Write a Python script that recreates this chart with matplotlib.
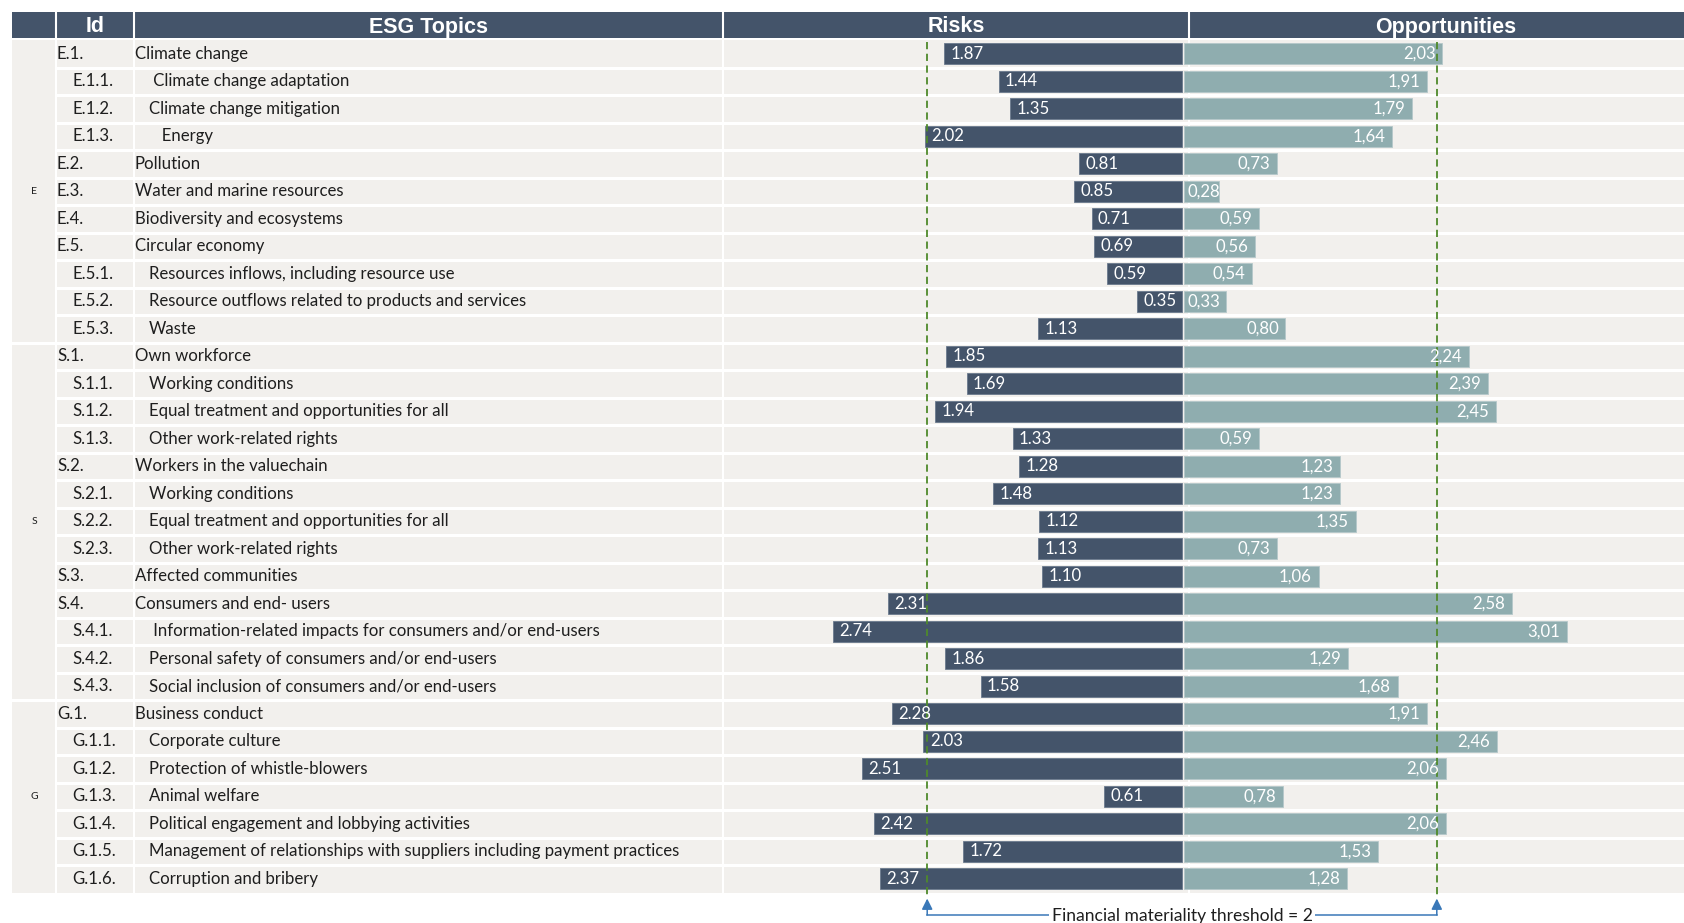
import matplotlib

matplotlib.use("Agg")
import matplotlib.pyplot as plt
from matplotlib.patches import Rectangle

groups = ["E", "S", "G"]
group_sizes = [11, 13, 7]

ids = [
    "E.1.", "E.1.1.", "E.1.2.", "E.1.3.", "E.2.", "E.3.", "E.4.", "E.5.", "E.5.1.", "E.5.2.", "E.5.3.",
    "S.1.", "S.1.1.", "S.1.2.", "S.1.3.", "S.2.", "S.2.1.", "S.2.2.", "S.2.3.", "S.3.", "S.4.",
    "S.4.1.", "S.4.2.", "S.4.3.",
    "G.1.", "G.1.1.", "G.1.2.", "G.1.3.", "G.1.4.", "G.1.5.", "G.1.6.",
]
topics = [
    "Climate change", " Climate change adaptation", "Climate change mitigation", "   Energy",
    "Pollution", "Water and marine resources", "Biodiversity and ecosystems", "Circular economy",
    "Resources inflows, including resource use", "Resource outflows related to products and services", "Waste",
    "Own workforce", "Working conditions", "Equal treatment and opportunities for all",
    "Other work-related rights", "Workers in the valuechain", "Working conditions",
    "Equal treatment and opportunities for all", "Other work-related rights", "Affected communities",
    "Consumers and end- users", " Information-related impacts for consumers and/or end-users",
    "Personal safety of consumers and/or end-users", "Social inclusion of consumers and/or end-users",
    "Business conduct", "Corporate culture", "Protection of whistle-blowers", "Animal welfare",
    "Political engagement and lobbying activities",
    "Management of relationships with suppliers including payment practices", "Corruption and bribery",
]
risks = [1.87, 1.44, 1.35, 2.02, 0.81, 0.85, 0.71, 0.69, 0.59, 0.35, 1.13,
         1.85, 1.69, 1.94, 1.33, 1.28, 1.48, 1.12, 1.13, 1.10, 2.31, 2.74, 1.86, 1.58,
         2.28, 2.03, 2.51, 0.61, 2.42, 1.72, 2.37]
opportunities = [2.03, 1.91, 1.79, 1.64, 0.73, 0.28, 0.59, 0.56, 0.54, 0.33, 0.80,
                 2.24, 2.39, 2.45, 0.59, 1.23, 1.23, 1.35, 0.73, 1.06, 2.58, 3.01, 1.29, 1.68,
                 1.91, 2.46, 2.06, 0.78, 2.06, 1.53, 1.28]
headers = ["Id", "ESG Topics", "Risks", "Opportunities"]
threshold = 2
threshold_label = "Financial materiality threshold = 2"

DARK = "#44546A"
LIGHT = "#8FADAF"
BG = "#F2F0ED"
GREEN = "#4F8A2B"
BLUE = "#3A78B8"
TEXT = "#1E1E1E"
BODY_FONT = ["Lato", "DejaVu Sans"]
HEAD_FONT = ["Liberation Sans Narrow", "Liberation Sans", "DejaVu Sans"]
FS = 12.1

# page geometry in pixels
W, H = 1684, 923
ROW_H = 27.5
HEAD_TOP, HEAD_BOT = 12, 38
ROWS_TOP = 40
LEFT = 12
cols = [LEFT, 56, 134, 723, 1189, W]
BAR_LEFT = 723
n = len(ids)


def to_row(py):
    return (py - ROWS_TOP) / ROW_H - 0.5


fig = plt.figure(figsize=(W / 100, H / 100), dpi=100)
tab = fig.add_axes([0, 0, 1, 1])
tab.set_xlim(0, W)
tab.set_ylim(to_row(H), to_row(0))
tab.axis("off")

# header
tab.add_patch(Rectangle((LEFT, to_row(HEAD_TOP)), W - LEFT, to_row(HEAD_BOT) - to_row(HEAD_TOP),
                        color=DARK, lw=0))
head_centers = [(cols[1] + cols[2]) / 2, (cols[2] + cols[3]) / 2, (cols[3] + cols[4]) / 2, 1446]
for label, cx in zip(headers, head_centers):
    tab.text(cx, to_row(HEAD_TOP + 15), label, color="white", fontsize=15.5,
             fontweight="bold", family=HEAD_FONT, ha="center", va="center")

# body background, rows and group cells
tab.add_patch(Rectangle((cols[1], -0.5), W - cols[1], n, color=BG, lw=0))
start = 0
for g, size in zip(groups, group_sizes):
    tab.add_patch(Rectangle((LEFT, start - 0.5), cols[1] - LEFT, size, color=BG, lw=0))
    tab.text((LEFT + cols[1]) / 2, start + (size - 1) / 2, g, fontsize=7.5, family=BODY_FONT,
             color=TEXT, ha="center", va="center")
    if start > 0:
        tab.plot([LEFT, cols[1]], [start - 0.5, start - 0.5], color="white", lw=2.2)
    start += size
for i in range(1, n):
    tab.plot([cols[1], W], [i - 0.5, i - 0.5], color="white", lw=2.2)
for x in cols[1:5]:
    tab.plot([x, x], [to_row(HEAD_TOP), n - 0.5], color="white", lw=1.5)

for i, (code, topic) in enumerate(zip(ids, topics)):
    sub = code.count(".") > 2
    tab.text(72 if sub else 57, i, code, fontsize=FS, family=BODY_FONT, color=TEXT, va="center")
    tab.text(149 if sub else 135, i, topic, fontsize=FS, family=BODY_FONT, color=TEXT, va="center")

# diverging bars
ax = fig.add_axes([BAR_LEFT / W, 0, (W - BAR_LEFT) / W, 1], sharey=tab)
unit = 127.4
zero = 1182
ax.set_xlim(-(zero - BAR_LEFT) / unit, (W - zero) / unit)
ax.axis("off")
ax.patch.set_alpha(0)

y = list(range(n))
ax.barh(y, [-r for r in risks], height=0.78, color=DARK, edgecolor="#6B7A8E", lw=0.6)
ax.barh(y, opportunities, height=0.78, color=LIGHT, edgecolor="#B5C8CA", lw=0.6, left=0.012)
for i, (r, o) in enumerate(zip(risks, opportunities)):
    ax.text(-r + 0.05, i, f"{r:.2f}", color="white", fontsize=FS, family=BODY_FONT, va="center")
    label = f"{o:.2f}".replace(".", ",")
    if o < 0.4:
        ax.text(0.04, i, label, color="white", fontsize=FS, family=BODY_FONT, va="center")
    else:
        ax.text(o - 0.04, i, label, color="white", fontsize=FS, family=BODY_FONT, va="center", ha="right")

# materiality threshold
line_top, line_bot, note_y = to_row(42), to_row(898), to_row(915)
for x in (-threshold, threshold):
    ax.plot([x, x], [line_top, line_bot], color=GREEN, lw=1.3, ls=(0, (4, 2.5)))
    ax.annotate("", xy=(x, line_bot + 0.02), xytext=(x, note_y),
                arrowprops=dict(arrowstyle="-|>", color=BLUE, lw=1.1, mutation_scale=16, shrinkA=0, shrinkB=0))
ax.plot([-threshold, threshold], [note_y, note_y], color=BLUE, lw=1.1)
ax.text(0, note_y + 0.05, threshold_label, fontsize=FS + 0.5, family=BODY_FONT, color=TEXT, ha="center",
        va="center", bbox=dict(facecolor="white", edgecolor="none", pad=1.5))

fig.savefig("out.png", dpi=100)
